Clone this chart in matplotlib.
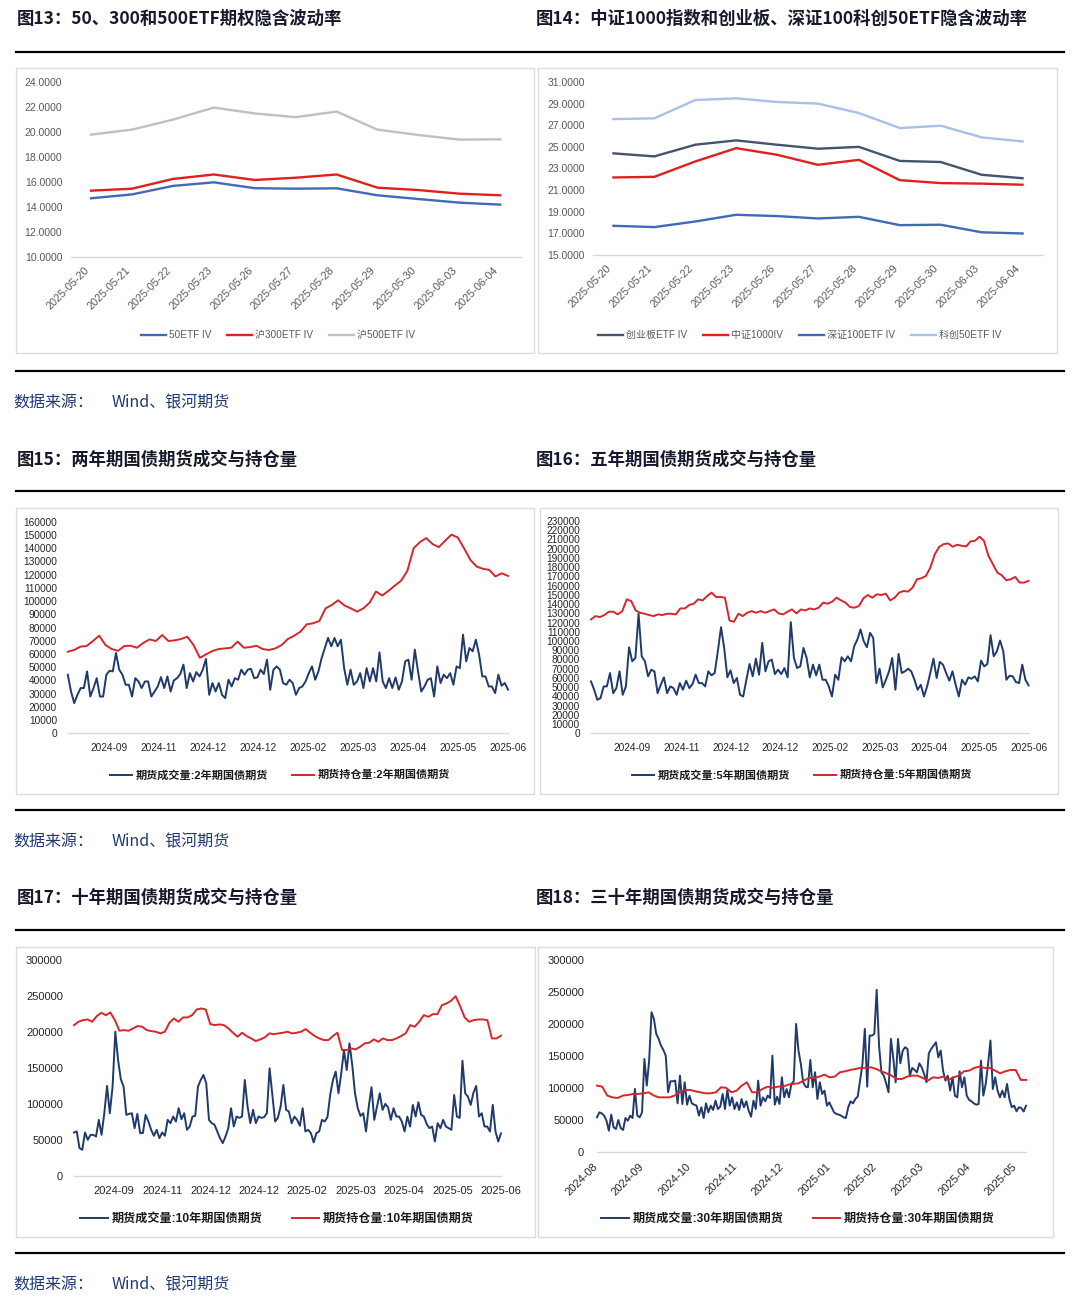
import numpy as np
import matplotlib.pyplot as plt
from matplotlib.patches import Rectangle
from matplotlib.lines import Line2D

plt.rcParams['font.family'] = ['Liberation Sans', 'Noto Sans CJK SC']

W, H = 1080, 1313

# ---------------- data ----------------
# implied volatility charts (figure 13 / 14)
iv_dates = ['2025-05-20', '2025-05-21', '2025-05-22', '2025-05-23', '2025-05-26', '2025-05-27',
            '2025-05-28', '2025-05-29', '2025-05-30', '2025-06-03', '2025-06-04']
iv_50 = [14.69, 15.00, 15.68, 15.97, 15.50, 15.46, 15.49, 14.93, 14.63, 14.34, 14.18]
iv_300 = [15.30, 15.46, 16.24, 16.60, 16.16, 16.34, 16.60, 15.54, 15.35, 15.06, 14.93]
iv_500 = [19.80, 20.20, 21.00, 21.97, 21.50, 21.20, 21.65, 20.20, 19.77, 19.40, 19.42]

iv_cyb = [24.40, 24.12, 25.20, 25.60, 25.20, 24.83, 25.00, 23.70, 23.60, 22.42, 22.10]
iv_zz1000 = [22.17, 22.23, 23.65, 24.88, 24.27, 23.34, 23.80, 21.92, 21.65, 21.60, 21.50]
iv_sz100 = [17.70, 17.58, 18.10, 18.72, 18.60, 18.38, 18.53, 17.76, 17.80, 17.10, 16.99]
iv_kc50 = [27.57, 27.64, 29.33, 29.49, 29.15, 29.00, 28.13, 26.74, 26.96, 25.88, 25.50]

# bond futures, values in thousand lots
vol_2y = [44.3, 31.6, 22.8, 29.1, 34.2, 34.2, 46.8, 27.8, 34.2, 41.7, 27.8, 27.8, 44.3, 47.3, 46.8, 60.7,
          48.1, 44.3, 36.7, 36.7, 27.8, 41.7, 39.2, 34.2, 39.2, 39.2, 27.8, 31.6, 35.4, 42.5, 34.2, 43.0,
          31.6, 40.0, 41.7, 44.8, 51.9, 34.2, 45.5, 39.2, 46.3, 43.0, 48.1, 56.2, 29.1, 38.0, 31.6, 38.0,
          29.1, 26.6, 40.5, 35.4, 41.7, 40.5, 48.1, 44.3, 48.1, 48.8, 41.7, 42.3, 48.1, 44.8, 55.7, 32.9,
          48.1, 50.6, 48.1, 38.0, 36.7, 40.5, 38.0, 29.1, 34.2, 35.4, 39.2, 45.5, 50.6, 40.5, 46.8, 56.9,
          64.5, 72.1, 65.8, 72.1, 65.8, 70.8, 49.3, 36.7, 48.1, 36.7, 39.2, 45.5, 34.2, 49.3, 39.2, 49.3,
          39.2, 61.2, 39.2, 34.2, 41.7, 34.2, 42.3, 32.9, 39.2, 54.4, 55.7, 40.5, 63.3, 46.8, 31.6, 35.4,
          40.5, 41.7, 27.8, 50.6, 38.0, 44.3, 41.7, 45.5, 36.7, 50.6, 49.3, 74.6, 54.4, 64.5, 62.0, 70.8,
          59.5, 43.0, 43.0, 35.4, 35.4, 30.4, 44.3, 36.0, 38.0, 33.0]
oi_2y = [61.7, 63.0, 65.5, 66.0, 69.8, 73.8, 66.7, 63.7, 62.4, 66.0, 66.2, 64.7, 68.3, 71.0, 69.8, 74.3,
         69.8, 70.3, 71.3, 73.0, 66.7, 57.1, 59.7, 62.2, 63.7, 64.2, 64.7, 69.3, 64.7, 65.2, 66.2, 63.7,
         63.0, 64.2, 66.7, 71.3, 73.8, 76.9, 82.4, 83.2, 84.9, 94.5, 97.1, 100.6, 96.6, 94.5, 92.0, 94.5,
         98.8, 107.2, 104.2, 107.7, 111.7, 115.3, 122.9, 140.0, 144.6, 147.6, 143.1, 140.8, 145.6, 150.2,
         148.1, 140.0, 131.2, 126.1, 124.4, 123.6, 118.6, 121.0, 119.0]

vol_5y = [56.2, 47.2, 36.3, 38.1, 50.8, 50.8, 65.3, 43.5, 49.0, 67.1, 41.7, 50.8, 93.2, 78.0, 81.6, 129.5,
          83.4, 78.0, 61.7, 68.9, 67.1, 43.5, 52.6, 60.6, 43.5, 50.8, 49.0, 41.7, 54.4, 47.2, 57.0, 49.0,
          53.3, 63.5, 54.4, 54.4, 50.8, 67.1, 62.8, 65.3, 88.9, 115.0, 92.5, 60.6, 68.2, 54.4, 59.9, 41.7,
          39.9, 58.0, 75.1, 61.7, 80.9, 63.5, 98.0, 67.1, 78.0, 79.8, 64.2, 68.9, 64.2, 70.7, 60.6, 120.5,
          81.6, 70.7, 72.5, 92.5, 81.6, 60.6, 74.4, 62.8, 74.4, 58.0, 58.0, 50.8, 39.9, 63.5, 58.0, 82.4,
          78.0, 83.4, 78.0, 94.3, 101.6, 112.5, 99.8, 93.2, 108.8, 103.4, 54.4, 70.0, 49.7, 58.0, 67.1,
          81.6, 47.2, 86.0, 65.3, 67.1, 70.0, 67.1, 58.0, 47.2, 52.6, 39.9, 50.8, 65.3, 80.9, 59.9, 77.3,
          74.4, 65.3, 57.0, 67.1, 52.6, 39.9, 58.0, 52.6, 60.6, 59.1, 61.7, 56.2, 78.7, 72.5, 75.1, 106.3,
          83.4, 88.9, 100.5, 88.9, 58.0, 62.4, 61.7, 55.5, 54.4, 74.4, 58.0, 51.9]
oi_5y = [123.4, 127.0, 125.9, 128.1, 131.7, 131.7, 128.8, 132.4, 145.1, 143.3, 133.1, 130.6, 129.5, 128.1,
         127.0, 128.8, 128.1, 129.5, 129.5, 128.8, 135.3, 135.3, 139.0, 140.4, 145.1, 144.0, 148.7, 152.4,
         147.7, 147.7, 146.9, 122.3, 120.8, 129.5, 127.0, 130.6, 132.4, 130.6, 132.4, 130.6, 132.4, 134.2,
         129.9, 128.8, 131.7, 134.2, 129.9, 134.2, 133.1, 135.3, 134.2, 136.1, 141.5, 140.4, 142.6, 146.9,
         144.0, 141.5, 136.8, 136.1, 137.9, 146.2, 149.8, 146.9, 150.6, 149.8, 151.3, 144.0, 146.9, 152.4,
         154.2, 153.5, 157.8, 166.9, 168.0, 170.5, 179.6, 194.1, 202.1, 205.0, 205.7, 202.1, 204.3, 203.2,
         202.4, 207.9, 208.6, 213.0, 208.6, 192.3, 183.2, 174.1, 171.2, 165.8, 166.9, 169.4, 163.3, 163.3,
         165.1]

vol_10y = [60.2, 61.6, 38.4, 36.1, 60.2, 50.0, 56.9, 56.9, 54.6, 77.8, 56.9, 87.0, 125.0, 87.0, 124.1,
           200.5, 161.1, 134.3, 124.1, 84.7, 86.1, 87.0, 66.2, 86.1, 59.3, 59.3, 84.7, 75.5, 63.9, 55.6,
           63.9, 52.3, 60.2, 55.6, 77.8, 73.2, 82.4, 75.5, 94.0, 78.7, 87.0, 63.9, 68.5, 82.4, 83.3, 124.1,
           133.3, 140.3, 128.7, 77.8, 73.2, 71.0, 61.6, 52.3, 45.4, 54.6, 66.2, 94.0, 68.5, 82.4, 80.6,
           82.4, 133.3, 96.3, 73.2, 91.7, 73.2, 82.4, 80.6, 81.5, 87.0, 149.5, 112.5, 75.5, 80.6, 96.3,
           126.4, 91.7, 89.4,
           73.2, 82.4, 77.8, 69.5, 94.0, 61.6, 63.9, 59.3, 46.3, 59.3, 61.6, 77.8, 75.5, 81.5, 112.5,
           133.3, 145.0, 114.8, 142.6, 175.0, 147.2, 184.3, 154.2, 114.8, 94.0, 83.3, 87.0, 61.6, 96.3,
           123.2, 77.8, 96.3, 114.8, 91.7, 100.0, 95.2, 77.8, 94.0, 82.4, 82.4, 75.5, 61.6, 82.4, 68.5,
           98.6, 82.4, 102.3, 84.7, 82.4, 72.2, 66.2, 68.5, 47.7, 73.2, 66.2, 77.8, 68.5, 66.2, 63.9,
           112.5, 82.4, 80.6, 160.2, 114.8, 110.2, 98.6, 115.7, 125.0, 82.4, 87.0, 68.5, 68.5, 61.6, 98.6,
           61.6, 47.7, 59.0]
oi_10y = [209.7, 214.4, 216.7, 217.6, 214.4, 222.2, 226.9, 223.6, 227.3, 216.7, 201.9, 202.8, 201.9,
          205.1, 208.4, 207.5, 202.8, 201.4, 200.5, 198.2, 200.5, 213.0, 219.0, 214.4, 220.4, 220.4,
          223.6, 231.5, 232.9, 231.5, 211.1, 209.7, 210.7, 209.7, 205.1, 199.1, 193.5, 199.1, 194.5,
          191.2, 187.5, 189.8, 192.6, 198.2, 197.2, 198.2,
          199.1, 200.5, 198.2, 199.1, 200.5, 204.2, 199.1, 194.5, 191.2, 188.9, 188.9, 194.5, 199.1,
          175.0, 175.0, 177.3, 175.9, 179.6, 184.3, 185.2, 189.8, 186.6, 191.2, 188.9, 188.9, 191.2,
          194.5, 198.2, 209.7, 207.5, 214.4, 223.6, 221.3, 225.0, 225.0, 237.5, 239.9, 243.6, 250.0,
          236.1, 220.4, 214.4, 216.7, 217.6, 217.6, 216.7, 191.2, 191.2, 195.0]

vol_30y = [53.9, 61.7, 60.1, 56.5, 48.6, 32.9, 58.1, 38.2, 35.6, 49.7, 37.1, 34.0, 52.8, 48.6, 56.5, 52.8,
           98.3, 56.5, 53.9, 61.7, 145.4, 103.6, 142.8, 218.6, 208.2, 184.6, 176.8, 166.3, 159.5, 150.6,
           93.1, 110.4, 110.4, 111.4, 75.8, 119.2, 74.8, 108.8, 73.7, 87.9, 75.8, 73.7, 72.2, 56.5, 69.6,
           52.8, 75.8, 61.7, 72.2, 65.4, 80.0, 66.9, 70.6, 90.5, 66.9, 96.8, 72.2, 85.2, 66.9, 77.4, 65.4,
           82.6, 69.6, 79.0, 64.3, 54.9, 80.0, 66.9, 111.4, 72.2, 85.2, 79.0, 87.9, 84.2, 150.6, 73.7,
           86.3, 74.8, 116.6, 85.2, 98.3, 85.2, 106.2, 110.4, 200.3, 158.5, 137.5,
           108.8, 102.0, 100.9, 143.8, 100.9, 124.5, 82.6, 108.8, 90.5, 95.7, 72.2, 77.4, 69.6, 61.7,
           59.1, 58.1, 56.5, 53.9, 52.8, 69.6, 79.0, 75.8, 82.6, 86.3, 111.4, 137.5, 192.5, 102.0, 182.0,
           182.0, 184.6, 253.7, 166.3, 124.5, 119.2, 107.2, 93.1, 176.8, 147.0, 108.8, 176.8, 138.6,
           158.5, 163.7, 161.1, 119.2, 131.3, 128.1, 124.5, 138.6, 132.3, 121.9, 108.8, 154.3, 161.1,
           166.3, 171.5, 148.0, 158.5, 127.1, 111.4, 119.2, 95.7, 116.6, 87.9, 85.2, 126.0, 100.9, 116.6,
           87.9, 81.1, 79.0, 75.8, 73.7, 74.8, 142.8, 87.9, 106.2, 137.5, 174.2, 98.3, 116.6, 95.7, 85.2,
           95.7, 85.2, 106.2, 82.6, 69.6, 72.2, 63.3, 69.6, 68.5, 63.0, 72.0]
oi_30y = [103.6, 102.0, 87.9, 85.2, 84.2, 87.9, 88.9, 90.5, 90.5, 91.5, 93.1, 87.9, 85.2, 85.2, 85.2, 87.9,
          93.1, 96.8, 96.8, 94.7, 93.1, 91.5, 91.5, 93.1, 101.0, 100.0, 93.1, 95.7, 103.6, 108.8, 93.1,
          93.1, 98.3, 102.0, 100.0, 102.0, 102.0, 105.1, 106.2, 107.2, 111.4, 115.6,
          115.6, 117.7, 120.8, 116.6, 117.7, 124.5, 126.0, 128.1, 129.7, 131.3, 131.3, 132.3, 129.7,
          126.0, 122.9, 119.2, 114.0, 114.0, 117.7, 119.2, 119.2, 115.6, 111.4, 116.6, 115.6, 117.7,
          112.5, 116.6, 119.2, 126.0, 127.1, 131.3, 133.4, 131.3, 131.3, 127.1, 122.9, 126.0, 128.1,
          128.1, 112.5, 112.5]

# category axis: ~195 trading days, a label every 22 days
days_bond = 195
tick_days_bond = [18, 40, 62, 84, 106, 128, 150, 172, 194]
labels_2y = ['2024-09', '2024-11', '2024-12', '2024-12', '2025-02', '2025-03', '2025-04', '2025-05', '2025-06']
labels_5y = labels_2y
labels_10y = labels_2y
days_30y = 185
tick_days_30y = [1, 21, 41, 61, 81, 101, 121, 141, 161, 181]
labels_30y = ['2024-08', '2024-09', '2024-10', '2024-11', '2024-12', '2025-01', '2025-02', '2025-03',
              '2025-04', '2025-05']

titles = ['图13：50、300和500ETF期权隐含波动率', '图14：中证1000指数和创业板、深证100科创50ETF隐含波动率',
          '图15：两年期国债期货成交与持仓量', '图16：五年期国债期货成交与持仓量',
          '图17：十年期国债期货成交与持仓量', '图18：三十年期国债期货成交与持仓量']
source_head = '数据来源：'
source_tail = 'Wind、银河期货'

NAVY = '#203a6b'
RED = '#d7262b'
GRAY_TXT = '#595959'
GRID = '#d9d9d9'


def rect(x0, y0, x1, y1):
    # pixel box (top-left origin) -> figure fraction
    return [x0 / W, 1 - y1 / H, (x1 - x0) / W, (y1 - y0) / H]


fig = plt.figure(figsize=(W / 100, H / 100), dpi=100)

# titles, rules, sources, frames
title_pos = [(17, 19), (536, 19), (17, 460), (536, 460), (17, 898), (536, 898)]
for t, (x, y) in zip(titles, title_pos):
    fig.text(x / W, 1 - y / H, t, fontsize=12.5, fontweight='bold', color='#16192b',
             va='center', ha='left', family=['Noto Sans CJK SC'])
for y in [52, 371, 491, 810, 930, 1253]:
    fig.add_artist(Line2D([16 / W, 1064 / W], [1 - y / H, 1 - y / H], color='black', lw=1.6))
for y in [403, 842, 1285]:
    fig.text(13 / W, 1 - y / H, source_head, fontsize=11.5, color='#1f3a70', va='center', ha='left',
             family=['Noto Sans CJK SC'])
    fig.text(112 / W, 1 - y / H, source_tail, fontsize=11.5, color='#1f3a70', va='center', ha='left',
             family=['Noto Sans CJK SC'])
for b in [(16, 68, 534, 353), (538, 68, 1057, 353), (16, 508, 534, 794), (540, 508, 1058, 794),
          (16, 947, 535, 1237), (538, 947, 1053, 1237)]:
    fig.add_artist(Rectangle((b[0] / W, 1 - b[3] / H), (b[2] - b[0]) / W, (b[3] - b[1]) / H,
                             transform=fig.transFigure, fill=False, edgecolor='#dcdcdc', lw=1.0))


def style(ax):
    for s in ['top', 'right', 'left']:
        ax.spines[s].set_visible(False)
    ax.spines['bottom'].set_color(GRID)
    ax.spines['bottom'].set_linewidth(1.0)
    ax.set_facecolor('none')


def legend(ax, cx, cy, fs, ncol, bold=False, color=GRAY_TXT, hl=2.5, cs=1.6):
    leg = ax.legend(loc='center', bbox_to_anchor=(cx / W, 1 - cy / H), bbox_transform=fig.transFigure,
                    ncol=ncol, frameon=False, fontsize=fs, handlelength=hl, handletextpad=0.3,
                    columnspacing=cs, prop={'size': fs, 'weight': 'bold' if bold else 'normal'})
    for t in leg.get_texts():
        t.set_color(color)


def iv_chart(box, series, ylim, ystep, ypad, lc):
    ax = fig.add_axes(rect(*box))
    x = np.arange(len(iv_dates))
    for vals, c, lab in series:
        ax.plot(x, vals, color=c, lw=1.7, label=lab, clip_on=False)
    ax.set_xlim(-0.5, len(iv_dates) - 0.5)
    ax.set_ylim(ylim)
    yt = np.arange(ylim[0], ylim[1] + 0.01, ystep)
    ax.set_yticks(yt)
    ax.set_yticklabels([f'{v:.4f}' for v in yt])
    ax.set_xticks(x)
    ax.set_xticklabels(iv_dates, rotation=45, ha='right')
    ax.tick_params(axis='y', length=0, pad=ypad, labelsize=7.5, labelcolor=GRAY_TXT)
    ax.tick_params(axis='x', length=0, pad=6, labelsize=7.8, labelcolor=GRAY_TXT)
    style(ax)
    legend(ax, lc[0], lc[1], 7.2, len(series))
    return ax


iv_chart((70.6, 82.3, 520.7, 256.7),
         [(iv_50, '#4169b8', '50ETF IV'), (iv_300, '#e0201e', '沪300ETF IV'), (iv_500, '#c0c0c0', '沪500ETF IV')],
         (10, 24), 2, 6, (278, 335))
iv_chart((593, 82, 1043, 255),
         [(iv_cyb, '#44546a', '创业板ETF IV'), (iv_zz1000, '#e0201e', '中证1000IV'),
          (iv_sz100, '#4169b8', '深证100ETF IV'), (iv_kc50, '#a9c0e8', '科创50ETF IV')],
         (15, 31), 2, 6, (800, 335))


def bond_chart(box, vol, oi, n_days, tdays, tlabels, ymax, ystep, tenor, lc, fs_tick, fs_leg,
               ypad, xpad, rot=0, hl=2.0, cs=2.2):
    ax = fig.add_axes(rect(*box))
    xv = np.linspace(0, n_days - 1, len(vol))
    xo = np.linspace(0, n_days - 1, len(oi))
    ax.plot(xv, np.array(vol) * 1000, color=NAVY, lw=1.4, clip_on=False,
            label=f'期货成交量:{tenor}年期国债期货')
    ax.plot(xo, np.array(oi) * 1000, color=RED, lw=1.4, clip_on=False,
            label=f'期货持仓量:{tenor}年期国债期货')
    ax.set_xlim(0, n_days - 1)
    ax.set_ylim(0, ymax)
    ax.set_yticks(np.arange(0, ymax + 1, ystep))
    ax.set_xticks(tdays)
    if rot:
        ax.set_xticklabels(tlabels, rotation=rot, ha='right')
    else:
        ax.set_xticklabels(tlabels)
    ax.tick_params(axis='y', length=0, pad=ypad, labelsize=fs_tick, labelcolor='#262626')
    ax.tick_params(axis='x', length=0, pad=xpad, labelsize=fs_tick, labelcolor='#262626')
    style(ax)
    legend(ax, lc[0], lc[1], fs_leg, 2, bold=True, color='#1a1a1a', hl=hl, cs=cs)
    return ax


bond_chart((67.8, 521.7, 508, 733.3), vol_2y, oi_2y, days_bond, tick_days_bond, labels_2y,
           160000, 10000, 2, (280, 775), 7.3, 8, 7.8, 7)
bond_chart((591, 521, 1028.6, 733.3), vol_5y, oi_5y, days_bond, tick_days_bond, labels_5y,
           230000, 10000, 5, (802, 775), 7.3, 8, 8, 7)
bond_chart((74, 960.3, 501, 1175.7), vol_10y, oi_10y, days_bond, tick_days_bond, labels_10y,
           300000, 50000, 10, (277, 1219), 8, 8.7, 8, 7.3, hl=2.3, cs=2.4)
bond_chart((597, 960.3, 1026, 1151.7), vol_30y, oi_30y, days_30y, tick_days_30y, labels_30y,
           300000, 50000, 30, (798, 1219), 8, 8.7, 9.4, 7, rot=45, hl=2.3, cs=2.4)

fig.savefig('out.png', dpi=100)
